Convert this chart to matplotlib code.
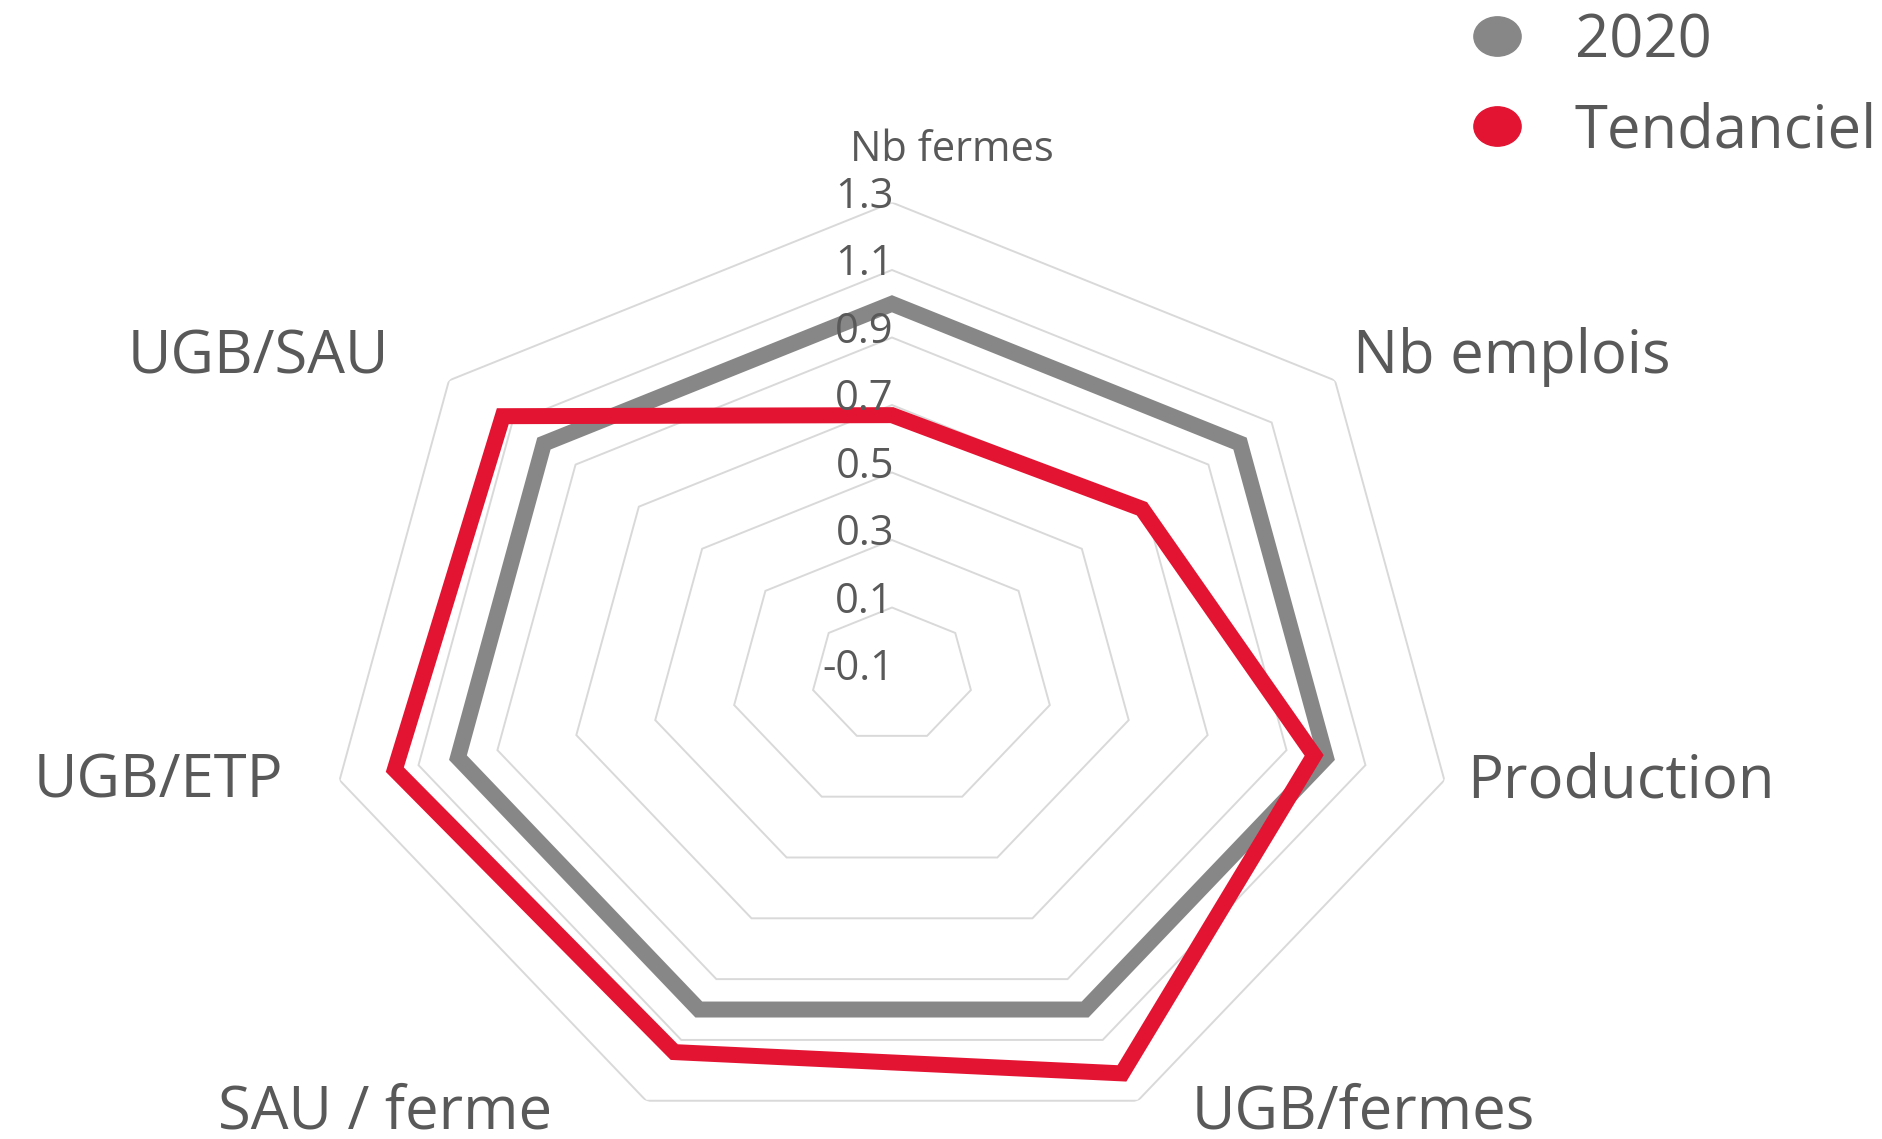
import numpy as np
import matplotlib
matplotlib.use('Agg')
import matplotlib.pyplot as plt
from matplotlib.lines import Line2D
from matplotlib.path import Path
from matplotlib.transforms import Affine2D

plt.rcParams['font.family'] = ['Open Sans', 'DejaVu Sans']

# Data
categories = ['Nb fermes', 'Nb emplois', 'Production', 'UGB/fermes',
              'SAU / ferme', 'UGB/ETP', 'UGB/SAU']
values_2020 = [1.0, 1.0, 1.0, 1.0, 1.0, 1.0, 1.0]
values_tendanciel = [0.67, 0.69, 0.97, 1.21, 1.14, 1.16, 1.13]
series_names = ['2020', 'Tendanciel']
ring_values = [-0.1, 0.1, 0.3, 0.5, 0.7, 0.9, 1.1, 1.3]
ring_labels = ['-0.1', '0.1', '0.3', '0.5', '0.7', '0.9', '1.1', '1.3']

# Style
grey = '#878787'
red = '#E31432'
grid_color = '#D9D9D9'
text_color = '#595959'

# label offsets in pixels (dx, dy) and alignment, one per category
label_layout = [(60, 53, 'center'), (18, 23, 'left'), (23, -1, 'left'),
                (54, -12, 'left'), (-94, -12, 'right'), (-56, -1, 'right'),
                (-60, 23, 'right')]
label_sizes = [30, 43, 43, 43, 43, 43, 43]

fig = plt.figure(figsize=(18.83, 11.39), dpi=100)
ax = fig.add_axes([0.1728, -0.0075, 0.6018, 0.8297], projection='polar')
ax.set_aspect('auto')
ax.set_theta_zero_location('N')
ax.set_theta_direction(-1)
ax.set_ylim(ring_values[0], ring_values[-1])
ax.grid(False)
ax.set_xticks([])
ax.set_yticks([])
ax.spines['polar'].set_visible(False)

n = len(categories)
angles = np.arange(n) * 2 * np.pi / n

# heptagon grid
for r in ring_values[1:]:
    ax.fill(angles, [r] * n, facecolor='none', edgecolor=grid_color,
            linewidth=1.4, joinstyle='miter', zorder=1)

# series
ax.fill(angles, values_2020, facecolor='none', edgecolor=grey,
        linewidth=11.5, joinstyle='miter', zorder=3)
ax.fill(angles, values_tendanciel, facecolor='none', edgecolor=red,
        linewidth=11.5, joinstyle='miter', zorder=4)

# radial tick labels
for r, lab in zip(ring_values, ring_labels):
    ax.annotate(lab, xy=(0, r), xytext=(2, 6), textcoords='offset pixels',
                ha='right', va='center', fontsize=30, color=text_color,
                zorder=5)

# category labels
for a, cat, (dx, dy, ha), fs in zip(angles, categories, label_layout, label_sizes):
    ax.annotate(cat, xy=(a, ring_values[-1]), xytext=(dx, dy),
                textcoords='offset pixels', ha=ha, va='center',
                fontsize=fs, color=text_color, annotation_clip=False)

# legend with slightly wide dots
ellipse = Path.unit_circle().transformed(Affine2D().scale(1.2, 1.0))
handles = [Line2D([], [], linestyle='none', marker=ellipse, markersize=34,
                  markerfacecolor=c, markeredgecolor=c) for c in (grey, red)]
fig.legend(handles, series_names, loc='upper left',
           bbox_to_anchor=(0.7796, 0.990), frameon=False, fontsize=43,
           labelcolor=text_color, handlelength=0.97, handletextpad=0.82,
           labelspacing=0.5, borderpad=0, borderaxespad=0)

fig.savefig('out.png', dpi=100)
